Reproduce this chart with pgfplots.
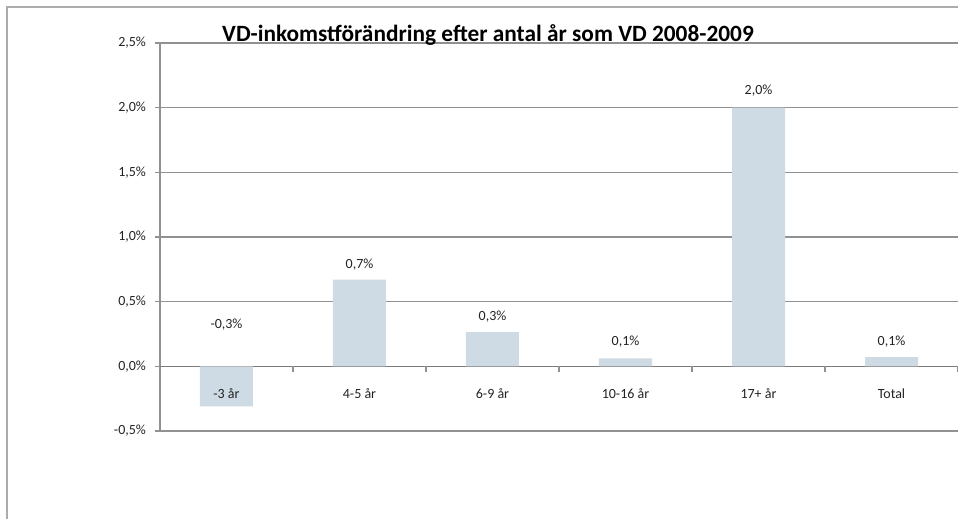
\documentclass[border=0pt]{standalone}
\usepackage{fontspec}
\setmainfont{Carlito}
\usepackage{pgfplots}
\pgfplotsset{compat=1.18}
\definecolor{barblue}{RGB}{207,219,228}
\definecolor{gridgray}{RGB}{145,145,145}
\definecolor{txt}{RGB}{35,35,35}

\begin{document}
\begin{tikzpicture}
\begin{axis}[
  at={(0,0)}, anchor=south west,
  scale only axis, width=598.5pt, height=291pt,
  xmin=-0.5, xmax=5.5, ymin=-0.5, ymax=2.5,
  axis y line*=left, axis x line*=bottom,
  axis line style={gridgray, line width=0.8pt},
  ytick={-0.5,0,0.5,1,1.5,2,2.5},
  yticklabels={{-0,5\%},{0,0\%},{0,5\%},{1,0\%},{1,5\%},{2,0\%},{2,5\%}},
  ymajorgrids, grid style={gridgray, line width=0.8pt},
  tick align=outside, major tick length=4pt,
  tick style={gridgray, line width=0.8pt},
  xtick=\empty,
  y tick label style={xshift=-3pt},
  tick label style={font=\fontsize{10.5}{12}\selectfont, text=txt},
  extra y ticks={0}, extra y tick labels={},
  extra y tick style={grid style={gridgray!85!black, line width=1pt}},
  clip=false,
]
% values in percent
\addplot[ybar, bar width=39.75pt, fill=barblue, draw=none] coordinates
  {(0,-0.31) (1,0.67) (2,0.265) (3,0.062) (4,2.0) (5,0.072)};

% data labels
\addplot[draw=none, nodes near coords, point meta=explicit symbolic,
  nodes near coords style={anchor=center, font=\fontsize{10.5}{12}\selectfont, text=txt}]
  table[meta=label] {
x y label
0 0.325 -0,3\%
1 0.789 0,7\%
2 0.387 0,3\%
3 0.193 0,1\%
4 2.128 2,0\%
5 0.193 0,1\%
};

% category names, set inside the plot just under the zero line
\addplot[draw=none, nodes near coords, point meta=explicit symbolic,
  nodes near coords style={anchor=center, font=\fontsize{10.5}{12}\selectfont, text=txt}]
  table[meta=label] {
x y label
0 -0.21 {-3 år}
1 -0.21 {4-5 år}
2 -0.21 {6-9 år}
3 -0.21 {10-16 år}
4 -0.21 {17+ år}
5 -0.21 {Total}
};

\pgfplotsinvokeforeach{0.5,1.5,2.5,3.5,4.5,5.5}{
  \draw[gridgray, line width=0.8pt] (axis cs:#1,0) -- ([yshift=-4pt]axis cs:#1,0);
}
\end{axis}

\draw[gray!65, line width=1.5pt] (-114.75pt,-66pt) -- (-114.75pt,318pt) -- (598.5pt,318pt);
\node[font=\bfseries\fontsize{17.5}{20}\selectfont, text=black] at (246pt,297pt)
  {VD-inkomstförändring efter antal år som VD 2008-2009};

\pgfresetboundingbox
\useasboundingbox (-120pt,-66pt) rectangle (598.5pt,323.25pt);
\end{tikzpicture}
\end{document}
